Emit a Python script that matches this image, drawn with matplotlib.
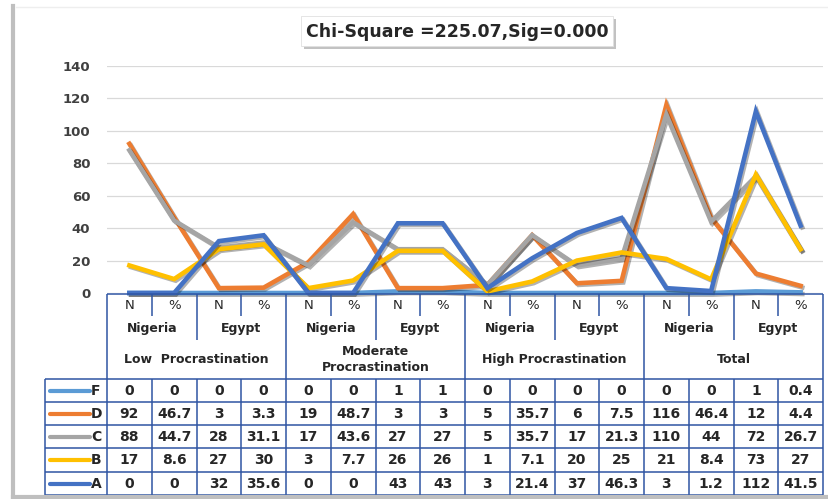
import matplotlib
matplotlib.use('Agg')
import matplotlib.pyplot as plt
import matplotlib.patheffects as pe
from matplotlib.lines import Line2D
from matplotlib.patches import Rectangle

# data
groups = ['Low  Procrastination', 'Moderate\nProcrastination', 'High Procrastination', 'Total']
countries = ['Nigeria', 'Egypt']
stats = ['N', '%']

series_names = ['F', 'D', 'C', 'B', 'A']
F = [0, 0, 0, 0, 0, 0, 1, 1, 0, 0, 0, 0, 0, 0, 1, 0.4]
D = [92, 46.7, 3, 3.3, 19, 48.7, 3, 3, 5, 35.7, 6, 7.5, 116, 46.4, 12, 4.4]
C = [88, 44.7, 28, 31.1, 17, 43.6, 27, 27, 5, 35.7, 17, 21.3, 110, 44, 72, 26.7]
B = [17, 8.6, 27, 30, 3, 7.7, 26, 26, 1, 7.1, 20, 25, 21, 8.4, 73, 27]
A = [0, 0, 32, 35.6, 0, 0, 43, 43, 3, 21.4, 37, 46.3, 3, 1.2, 112, 41.5]
series_values = [F, D, C, B, A]
series_colors = ['#5B9BD5', '#ED7D31', '#A5A5A5', '#FFC000', '#4472C4']

W, H = 829, 499
fig = plt.figure(figsize=(W / 100, H / 100), dpi=100)
plt.rcParams['font.family'] = 'DejaVu Sans'

def fx(x):
    return x / W

def fy(y):
    return 1 - y / H

txt_col = '#262626'
grid_col = '#2F55A3'

# outer frame (left + bottom shadowed edge)
fig.add_artist(Line2D([fx(13), fx(13)], [fy(6), fy(497)], transform=fig.transFigure, color='#BFBFBF', lw=3))
fig.add_artist(Line2D([fx(13), fx(829)], [fy(497), fy(497)], transform=fig.transFigure, color='#BFBFBF', lw=3))
fig.add_artist(Line2D([fx(16), fx(829)], [fy(7), fy(7)], transform=fig.transFigure, color='#EEEEEE', lw=1))

# title box
fig.add_artist(Rectangle((fx(304), fy(49)), fx(312) - fx(0), fy(0) - fy(30), transform=fig.transFigure,
                         facecolor='#9A9A9A', edgecolor='none', alpha=0.6))
fig.add_artist(Rectangle((fx(301), fy(46)), fx(312) - fx(0), fy(0) - fy(30), transform=fig.transFigure,
                         facecolor='white', edgecolor='#E0E0E0', lw=0.6))
fig.text(fx(457), fy(32), 'Chi-Square =225.07,Sig=0.000', ha='center', va='center',
         fontsize=12.5, fontweight='bold', color=txt_col)

# main line chart
ax = fig.add_axes([fx(107), fy(293), fx(716), fy(0) - fy(227)])
x = list(range(len(A)))
for name, vals, col in zip(series_names, series_values, series_colors):
    ax.plot(x, vals, color=col, lw=3.3, solid_joinstyle='miter', clip_on=False,
            path_effects=[pe.SimpleLineShadow(offset=(1.2, -1.2), shadow_color='black', alpha=0.3),
                          pe.Normal()])
ax.set_xlim(-0.5, len(A) - 0.5)
ax.set_ylim(0, 140)
ax.set_yticks(range(0, 141, 20))
ax.set_xticks([])
ax.grid(axis='y', color='#D9D9D9', lw=0.9)
ax.set_axisbelow(True)
for s in ax.spines.values():
    s.set_visible(False)
ax.tick_params(axis='y', length=0, pad=12, labelsize=9.5, labelcolor='#404040')
for lab in ax.get_yticklabels():
    lab.set_fontweight('bold')

# data table
tax = fig.add_axes([fx(107), fy(495), fx(716), fy(0) - fy(201)])
tax.set_xlim(-0.5, len(A) - 0.5)
tax.set_ylim(495, 294)
tax.axis('off')

lw_t = 1.1
def hline(x0, x1, y):
    tax.plot([x0, x1], [y, y], color=grid_col, lw=lw_t, clip_on=False, solid_capstyle='butt')

def vline(xx, y0, y1):
    tax.plot([xx, xx], [y0, y1], color=grid_col, lw=lw_t, clip_on=False, solid_capstyle='butt')

leg_left = -0.5 - 62 / 44.75
row_edges = [379, 402, 425, 448, 472, 495]
hline(-0.5, 15.5, 294)
for y in row_edges:
    hline(leg_left, 15.5, y)
vline(leg_left, 379, 495)
for b in range(17):
    xb = b - 0.5
    if b % 4 == 0:
        vline(xb, 294, 495)
    elif b % 4 == 2:
        vline(xb, 294, 340)
        vline(xb, 379, 495)
    else:
        vline(xb, 294, 316)
        vline(xb, 379, 495)

fs_h = 9
for g, gname in enumerate(groups):
    for c, cname in enumerate(countries):
        for s, sname in enumerate(stats):
            tax.text(4 * g + 2 * c + s, 305, sname, ha='center', va='center', fontsize=fs_h + 0.5,
                     color=txt_col)
        tax.text(4 * g + 2 * c + 0.5, 328, cname, ha='center', va='center', fontsize=fs_h,
                 fontweight='bold', color=txt_col)
    tax.text(4 * g + 1.5, 359, gname, ha='center', va='center', fontsize=fs_h,
             fontweight='bold', color=txt_col, linespacing=1.3)

# table rows, legend keys
leg_x0 = leg_left + 5 / 44.75
leg_x1 = leg_left + 45 / 44.75
for r, (name, vals, col) in enumerate(zip(series_names, series_values, series_colors)):
    yc = (row_edges[r] + row_edges[r + 1]) / 2
    tax.plot([leg_x0, leg_x1], [yc, yc], color=col, lw=3, clip_on=False, solid_capstyle='round')
    tax.text(leg_left + 51 / 44.75, yc, name, ha='center', va='center', fontsize=10,
             fontweight='bold', color=txt_col)
    for i, v in enumerate(vals):
        tax.text(i, yc, '%g' % v, ha='center', va='center', fontsize=10,
                 fontweight='bold', color=txt_col)

fig.savefig('out.png', dpi=100)
